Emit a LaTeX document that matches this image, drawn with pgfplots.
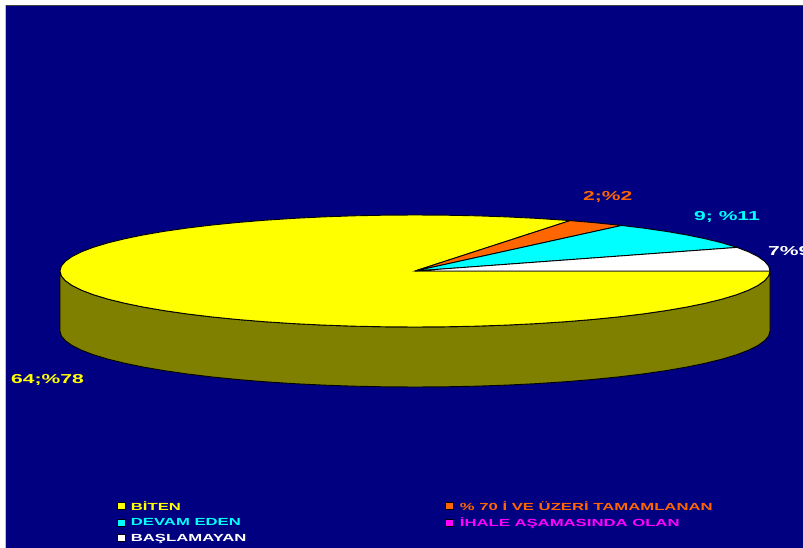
\documentclass[border=0pt]{standalone}
\usepackage{pgfplots}
\pgfplotsset{compat=1.18}
\usepackage{fontspec}
\setmainfont{Liberation Sans}
\newfontfamily\wideB[FakeStretch=1.62]{Liberation Sans Bold}
\definecolor{navy}{HTML}{000080}
\definecolor{wall}{HTML}{808000}
\definecolor{orng}{HTML}{FF6600}
\definecolor{cyn}{HTML}{00FFFF}
\definecolor{mag}{HTML}{FF00FF}
\definecolor{yel}{HTML}{FFFF00}
\begin{document}
\begin{tikzpicture}
\begin{axis}[
  scale only axis, width=803pt, height=548pt,
  xmin=0, xmax=803, ymin=0, ymax=548, y dir=reverse,
  hide axis, clip=true,
  legend cell align=left,
  legend columns=2,
  legend style={draw=none, fill=none, at={(axis cs:116.5,501.5)}, anchor=north west,
    inner sep=0pt, outer sep=0pt, row sep=5.9pt,
    nodes={inner sep=0pt, font=\wideB\fontsize{10.3}{12}\selectfont},
    /tikz/every odd column/.append style={column sep=6pt},
    /tikz/every even column/.append style={column sep=199pt}},
  legend image code/.code={\filldraw[#1] (0pt,-3pt) rectangle (8pt,4pt);},
]
% page and background
\addplot[forget plot, fill=white, draw=none] coordinates {(0,0) (803,0) (803,548) (0,548)} --cycle;
\addplot[forget plot, fill=navy, draw=none] coordinates {(6,5) (803,5) (803,548) (6,548)} --cycle;
\addplot[forget plot, color=black!75, line width=1pt] coordinates {(5,5.5) (803,5.5)};
\addplot[forget plot, color=black!25, line width=1pt] coordinates {(5.5,5) (5.5,548)};
% side wall
\addplot[forget plot, fill=wall, draw=black, line width=0.9pt] coordinates {
(60,271)(61.35,275.88)(65.39,280.72)(72.10,285.49)(81.41,290.15)(93.26,294.67)(107.56,299)(124.20,303.12)(143.05,307)(163.98,310.60)(186.81,313.90)(211.38,316.87)(237.5,319.5)(264.97,321.75)(293.58,323.62)(323.12,325.09)(353.35,326.15)(384.06,326.79)(415,327)(445.94,326.79)(476.65,326.15)(506.88,325.09)(536.42,323.62)(565.03,321.75)(592.5,319.5)(618.62,316.87)(643.19,313.90)(666.02,310.60)(686.95,307)(705.80,303.12)(722.44,299)(736.74,294.67)(748.59,290.15)(757.90,285.49)(764.61,280.72)(768.65,275.88)(770,271)
(770,331)(768.65,335.88)(764.61,340.72)(757.90,345.49)(748.59,350.15)(736.74,354.67)(722.44,359)(705.80,363.12)(686.95,367)(666.02,370.60)(643.19,373.90)(618.62,376.87)(592.5,379.5)(565.03,381.75)(536.42,383.62)(506.88,385.09)(476.65,386.15)(445.94,386.79)(415,387)(384.06,386.79)(353.35,386.15)(323.12,385.09)(293.58,383.62)(264.97,381.75)(237.5,379.5)(211.38,376.87)(186.81,373.90)(163.98,370.60)(143.05,367)(124.20,363.12)(107.56,359)(93.26,354.67)(81.41,350.15)(72.10,345.49)(65.39,340.72)(61.35,335.88)(60,331)
} --cycle;
% BITEN slice (64)
\addplot[forget plot, fill=yel, draw=black, line width=0.9pt] coordinates {
(415,271)(570.06,220.62)(565.03,220.25)(536.42,218.38)(506.88,216.91)(476.65,215.85)(445.94,215.21)(415,215)(384.06,215.21)(353.35,215.85)(323.12,216.91)(293.58,218.38)(264.97,220.25)(237.5,222.5)(211.38,225.13)(186.81,228.10)(163.98,231.40)(143.05,235)(124.20,238.88)(107.56,243)(93.26,247.33)(81.41,251.85)(72.10,256.51)(65.39,261.28)(61.35,266.12)(60,271)(61.35,275.88)(65.39,280.72)(72.10,285.49)(81.41,290.15)(93.26,294.67)(107.56,299)(124.20,303.12)(143.05,307)(163.98,310.60)(186.81,313.90)(211.38,316.87)(237.5,319.5)(264.97,321.75)(293.58,323.62)(323.12,325.09)(353.35,326.15)(384.06,326.79)(415,327)(445.94,326.79)(476.65,326.15)(506.88,325.09)(536.42,323.62)(565.03,321.75)(592.5,319.5)(618.62,316.87)(643.19,313.90)(666.02,310.60)(686.95,307)(705.80,303.12)(722.44,299)(736.74,294.67)(748.59,290.15)(757.90,285.49)(764.61,280.72)(768.65,275.88)(770,271)
} --cycle;
% % 70 slice (2)
\addplot[forget plot, fill=orng, draw=black, line width=0.9pt] coordinates {
(415,271)(621.6,225.47)(592.5,222.5)(570.06,220.62)
} --cycle;
% DEVAM EDEN slice (9)
\addplot[forget plot, fill=cyn, draw=black, line width=0.9pt] coordinates {
(415,271)(736.98,247.42)(722.44,243)(705.80,238.88)(686.95,235)(666.02,231.40)(643.19,228.10)(621.6,225.47)
} --cycle;
% BASLAMAYAN slice (7)
\addplot[forget plot, fill=white, draw=black, line width=0.9pt] coordinates {
(415,271)(770,271)(768.65,266.12)(764.61,261.28)(757.90,256.51)(748.59,251.85)(736.98,247.42)
} --cycle;
% data labels
\node[anchor=west, inner sep=0pt, text=yel, font=\wideB\fontsize{13}{14}\selectfont] at (axis cs:11,379.5) {64;\%78};
\node[anchor=west, inner sep=0pt, text=orng, font=\wideB\fontsize{13}{14}\selectfont] at (axis cs:583,197) {2;\%2};
\node[anchor=west, inner sep=0pt, text=cyn, font=\wideB\fontsize{13}{14}\selectfont] at (axis cs:694,216.5) {9; \%11};
\node[overlay, anchor=west, inner sep=0pt, text=white, font=\wideB\fontsize{13}{14}\selectfont] at (axis cs:768,251) {7\%9};
% legend
\addlegendimage{fill=yel, draw=black}
\addlegendentry{\textcolor{yel}{BİTEN}}
\addlegendimage{fill=orng, draw=black}
\addlegendentry{\textcolor{orng}{\% 70 İ VE ÜZERİ TAMAMLANAN}}
\addlegendimage{fill=cyn, draw=black}
\addlegendentry{\textcolor{cyn}{DEVAM EDEN}}
\addlegendimage{fill=mag, draw=black}
\addlegendentry{\textcolor{mag}{İHALE AŞAMASINDA OLAN}}
\addlegendimage{fill=white, draw=black}
\addlegendentry{\textcolor{white}{BAŞLAMAYAN}}
\end{axis}
\end{tikzpicture}
\end{document}
